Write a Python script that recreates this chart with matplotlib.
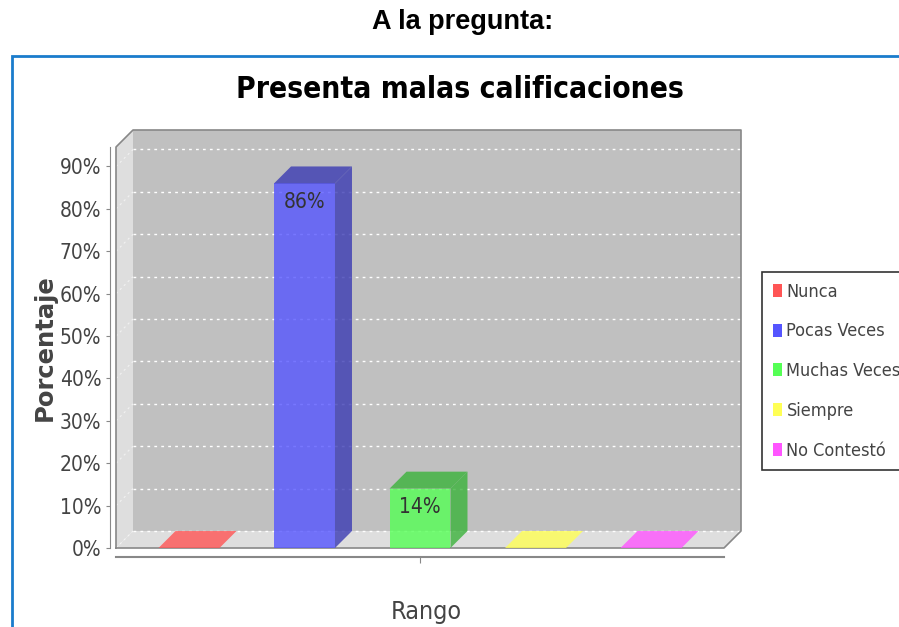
import matplotlib
matplotlib.use("Agg")
import matplotlib.pyplot as plt
from matplotlib import font_manager as fm
from matplotlib.patches import Polygon, Rectangle, Patch
import numpy as np

# data
series = ["Nunca", "Pocas Veces", "Muchas Veces", "Siempre", "No Contestó"]
values = [0, 86, 14, 0, 0]
labels = ["", "86%", "14%", "", ""]
colors = ["#ff5555", "#5555ff", "#55ff55", "#ffff55", "#ff55ff"]
yticks = [0, 10, 20, 30, 40, 50, 60, 70, 80, 90]
ytick_labels = ["%d%%" % v for v in yticks]

W, H = 899, 627
DX, DY = 17, 17        # 3d depth in pixels
ALPHA = 0.8

# pick a narrow font if there is one
fonts = [(f.name, f.stretch) for f in fm.fontManager.ttflist]
if any(n == "Liberation Sans Narrow" for n, s in fonts):
    COND = dict(family="Liberation Sans Narrow")
elif any(n == "DejaVu Sans" and s == "condensed" for n, s in fonts):
    COND = dict(family="DejaVu Sans", stretch="condensed")
elif any(n == "Roboto Condensed" for n, s in fonts):
    COND = dict(family="Roboto Condensed")
else:
    COND = dict(family="Roboto")
NARROW = COND["family"] != "Roboto"

fig = plt.figure(figsize=(W / 100, H / 100), dpi=100)

def fx(px):
    return px / W

def fy(py):
    return 1 - py / H

# heading and blue frame
fig.text(fx(463), fy(22), "A la pregunta:", ha="center", va="center",
         fontsize=19.5, fontweight="bold", family="Liberation Sans")
fig.add_artist(Rectangle((fx(12), fy(700)), fx(1000), fy(56) - fy(700),
                         transform=fig.transFigure, fill=False,
                         edgecolor="#1a7ccc", lw=2))

fig.text(fx(460), fy(90), "Presenta malas calificaciones", ha="center",
         va="center", fontsize=21.5 if NARROW else 19, fontweight="bold", **COND)

ax = fig.add_axes([fx(116), fy(548), fx(724) - fx(116), fy(147) - fy(548)])
ax.set_xlim(-0.632, 4.632)
ax.set_ylim(0, 94.6)
ax.patch.set_visible(False)
ax.set_zorder(3)
fig.canvas.draw()

def pt(x, y, back=False):
    p = ax.transData.transform((x, y))
    if back:
        p = p + np.array([DX, DY])
    return p

def poly(pts, **kw):
    p = Polygon(np.array(pts), closed=True, transform=None, clip_on=False, **kw)
    fig.add_artist(p)
    return p

x0, x1 = ax.get_xlim()
y0, y1 = ax.get_ylim()

# walls
poly([pt(x0, y0, True), pt(x1, y0, True), pt(x1, y1, True), pt(x0, y1, True)],
     facecolor="#c0c0c0", edgecolor="none", zorder=1)
poly([pt(x0, y0), pt(x0, y0, True), pt(x0, y1, True), pt(x0, y1)],
     facecolor="#dedede", edgecolor="none", zorder=1)
poly([pt(x0, y0), pt(x1, y0), pt(x1, y0, True), pt(x0, y0, True)],
     facecolor="#dedede", edgecolor="none", zorder=1)

# grid lines
for v in yticks:
    a, b = pt(x0, v, True), pt(x1, v, True)
    fig.add_artist(plt.Line2D([a[0], b[0]], [a[1], b[1]], transform=None,
                              color="white", lw=1, ls=(0, (2, 3)), zorder=2))
    c = pt(x0, v)
    fig.add_artist(plt.Line2D([c[0], a[0]], [c[1], a[1]], transform=None,
                              color="white", lw=0.8, ls=(0, (2, 3)),
                              alpha=0.6, zorder=2))

# outline of the box
outline = [pt(x0, y0), pt(x0, y1), pt(x0, y1, True), pt(x1, y1, True),
           pt(x1, y0, True), pt(x1, y0), pt(x0, y0)]
outline = np.array(outline)
fig.add_artist(plt.Line2D(outline[:, 0], outline[:, 1], transform=None,
                          color="#888888", lw=1.2, zorder=2.5))

# bars
bw = 0.528
xs = np.arange(len(series))

def darker(c):
    r, g, b = matplotlib.colors.to_rgb(c)
    return (r * 0.7, g * 0.7, b * 0.7)

ax.bar(xs, values, width=bw, color=colors, alpha=ALPHA, zorder=5,
       clip_on=False)
for x, v, c in zip(xs, values, colors):
    l, r = x - bw / 2, x + bw / 2
    top = [pt(l, v), pt(r, v), pt(r, v, True), pt(l, v, True)]
    if v == 0:
        poly(top, facecolor=c, alpha=ALPHA, edgecolor="none", zorder=4)
    else:
        poly(top, facecolor=darker(c), alpha=ALPHA, edgecolor="none", zorder=4)
        side = [pt(r, 0), pt(r, 0, True), pt(r, v, True), pt(r, v)]
        poly(side, facecolor=darker(c), alpha=ALPHA, edgecolor="none", zorder=4)

for x, v, t in zip(xs, values, labels):
    if t:
        ax.annotate(t, (x, v), xytext=(0, -6), textcoords="offset points",
                    ha="center", va="top", fontsize=15 if NARROW else 12,
                    color="#333333", zorder=6, **COND)

# axes
for s in ["top", "right"]:
    ax.spines[s].set_visible(False)
ax.spines["left"].set_position(("outward", 4.5))
ax.spines["bottom"].set_position(("outward", 6.5))
ax.spines["left"].set_color("#888888")
ax.spines["bottom"].set_color("#888888")
ax.spines["bottom"].set_linewidth(1.5)
ax.set_yticks(yticks)
ax.set_yticklabels(ytick_labels, fontsize=15 if NARROW else 13,
                   color="#444444", **COND)
ax.tick_params(axis="y", length=3, color="#888888", pad=3)
ax.set_xticks([2])
ax.set_xticklabels([""])
ax.tick_params(axis="x", length=4, color="#888888")
ax.set_xlabel("Rango", fontsize=18 if NARROW else 15, color="#444444",
              labelpad=20, **COND)
ax.xaxis.set_label_coords(0.51, -0.13)
ax.set_ylabel("Porcentaje", fontsize=17.5, fontweight="bold", color="#444444",
              labelpad=2)

# legend
handles = [Patch(facecolor=c, edgecolor="none") for c in colors]
leg = fig.legend(handles, series, loc="upper left",
                 bbox_to_anchor=(fx(762), fy(272)), frameon=True,
                 fancybox=False, handlelength=0.5, handleheight=0.75,
                 handletextpad=0.25, labelspacing=1.2, borderpad=0.6,
                 borderaxespad=0,
                 prop=dict(size=13 if NARROW else 11, **COND))
leg.get_frame().set_edgecolor("black")
leg.get_frame().set_linewidth(1.2)
for t in leg.get_texts():
    t.set_color("#444444")

fig.savefig("out.png", dpi=100)
